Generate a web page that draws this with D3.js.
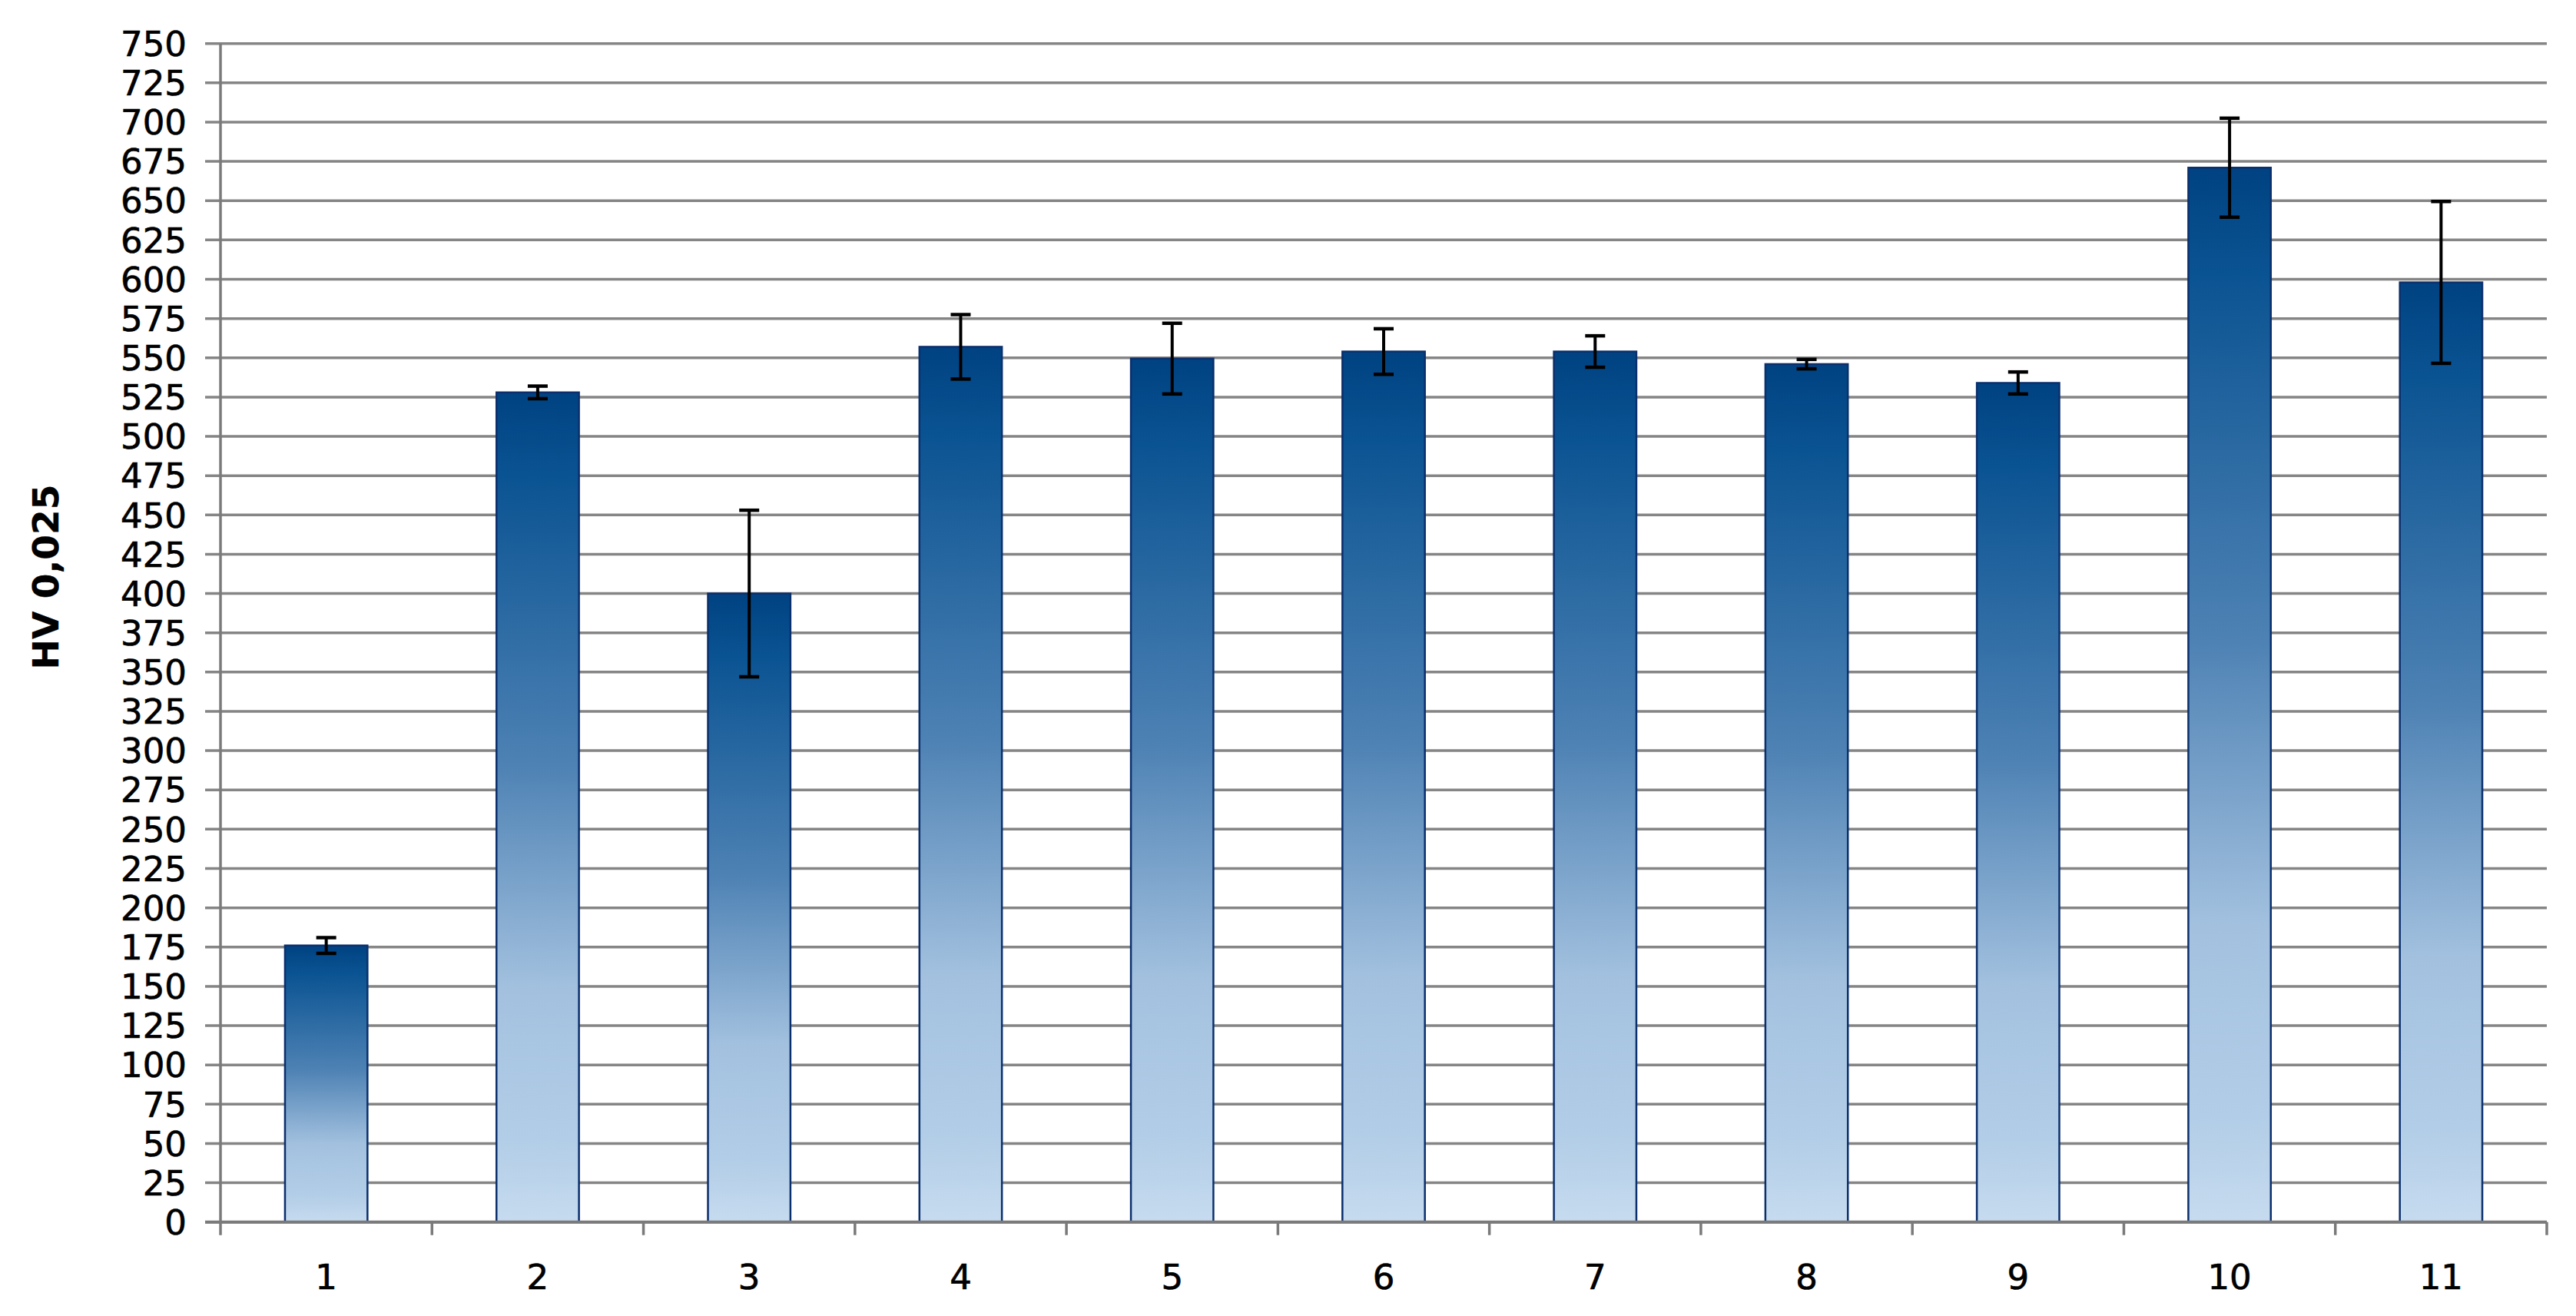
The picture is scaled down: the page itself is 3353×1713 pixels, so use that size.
<!DOCTYPE html>
<html>
<head>
<meta charset="utf-8">
<script src="https://cdn.jsdelivr.net/npm/d3@7"></script>
<style>
  body { margin: 0; background: #fff; }
  text { font-family: "DejaVu Sans", Verdana, sans-serif; fill: #000; stroke: #000; stroke-width: 0.7px; }
</style>
</head>
<body>
<script>
// data
var categories = ["1","2","3","4","5","6","7","8","9","10","11"];
var means  = [176, 528, 400, 557, 549.5, 554, 554, 546, 534, 671, 598];
var errors = [5, 4, 53, 20.5, 22.5, 14.5, 10, 3, 7, 31.5, 51.5];
var yTicks = d3.range(0, 751, 25);

var w = 3353, h = 1713;
var plotLeft = 287, plotRight = 3315, plotTop = 56.7, plotBottom = 1590.7;

var svg = d3.select("body").append("svg")
  .attr("width", w)
  .attr("height", h);

var y = d3.scaleLinear().domain([0, 750]).range([plotBottom, plotTop]);
var x = d3.scaleBand().domain(categories).range([plotLeft, plotRight])
  .paddingInner(0.61).paddingOuter(0.305);
var xEdge = d3.scaleLinear().domain([0, categories.length]).range([plotLeft, plotRight]);

// gradient for the bars (dark at top, light at bottom)
var grad = svg.append("defs").append("linearGradient")
  .attr("id", "barGrad")
  .attr("x1", 0).attr("y1", 0).attr("x2", 0).attr("y2", 1);
[[0, "#004282"], [0.1, "#0a5392"], [0.45, "#4e82b4"], [0.72, "#a3c1df"], [0.9, "#b2cde7"], [1, "#c6dbef"]]
  .forEach(function(s) {
    grad.append("stop").attr("offset", s[0]).attr("stop-color", s[1]);
  });

// gridlines + y ticks
svg.append("g").selectAll("line")
  .data(yTicks)
  .enter().append("line")
  .attr("x1", plotLeft - 20).attr("x2", plotRight)
  .attr("y1", function(d) { return y(d); })
  .attr("y2", function(d) { return y(d); })
  .style("stroke", "#858585")
  .style("stroke-width", 3.5);

// y labels
svg.append("g").selectAll("text")
  .data(yTicks)
  .enter().append("text")
  .attr("x", 243)
  .attr("y", function(d) { return y(d); })
  .attr("dy", "0.36em")
  .attr("text-anchor", "end")
  .style("font-size", "45px")
  .text(function(d) { return d; });

// bars
svg.append("g").selectAll("rect")
  .data(means)
  .enter().append("rect")
  .attr("x", function(d, i) { return x(categories[i]); })
  .attr("width", x.bandwidth())
  .attr("y", function(d) { return y(d); })
  .attr("height", function(d) { return y(0) - y(d); })
  .style("fill", "url(#barGrad)")
  .style("stroke", "#0b2f6c")
  .style("stroke-width", 2.5);

// axes
svg.append("line")
  .attr("x1", plotLeft).attr("x2", plotLeft)
  .attr("y1", plotTop).attr("y2", plotBottom + 17)
  .style("stroke", "#7a7a7a").style("stroke-width", 3.5);
svg.append("line")
  .attr("x1", plotLeft - 20).attr("x2", plotRight)
  .attr("y1", plotBottom).attr("y2", plotBottom)
  .style("stroke", "#7a7a7a").style("stroke-width", 4);
svg.append("g").selectAll("line")
  .data(d3.range(1, categories.length + 1))
  .enter().append("line")
  .attr("x1", function(d) { return xEdge(d); })
  .attr("x2", function(d) { return xEdge(d); })
  .attr("y1", plotBottom).attr("y2", plotBottom + 17)
  .style("stroke", "#7a7a7a").style("stroke-width", 3.5);

// error bars
var eb = svg.append("g").selectAll("g")
  .data(means)
  .enter().append("g")
  .attr("transform", function(d, i) { return "translate(" + (x(categories[i]) + x.bandwidth() / 2) + ",0)"; });
eb.append("line")
  .attr("y1", function(d, i) { return y(d + errors[i]); })
  .attr("y2", function(d, i) { return y(d - errors[i]); })
  .style("stroke", "#000").style("stroke-width", 4);
eb.selectAll(".cap")
  .data(function(d, i) { return [d + errors[i], d - errors[i]]; })
  .enter().append("line")
  .attr("x1", -13).attr("x2", 13)
  .attr("y1", function(d) { return y(d); })
  .attr("y2", function(d) { return y(d); })
  .style("stroke", "#000").style("stroke-width", 4.5);

// x labels
svg.append("g").selectAll("text")
  .data(categories)
  .enter().append("text")
  .attr("x", function(d) { return x(d) + x.bandwidth() / 2; })
  .attr("y", 1678)
  .attr("text-anchor", "middle")
  .style("font-size", "45px")
  .text(function(d) { return d; });

// y title
svg.append("text")
  .attr("transform", "translate(76,751) rotate(-90)")
  .attr("text-anchor", "middle")
  .style("font-size", "47px")
  .style("font-weight", "bold")
  .style("stroke-width", "0.3px")
  .text("HV 0,025");
</script>
</body>
</html>
